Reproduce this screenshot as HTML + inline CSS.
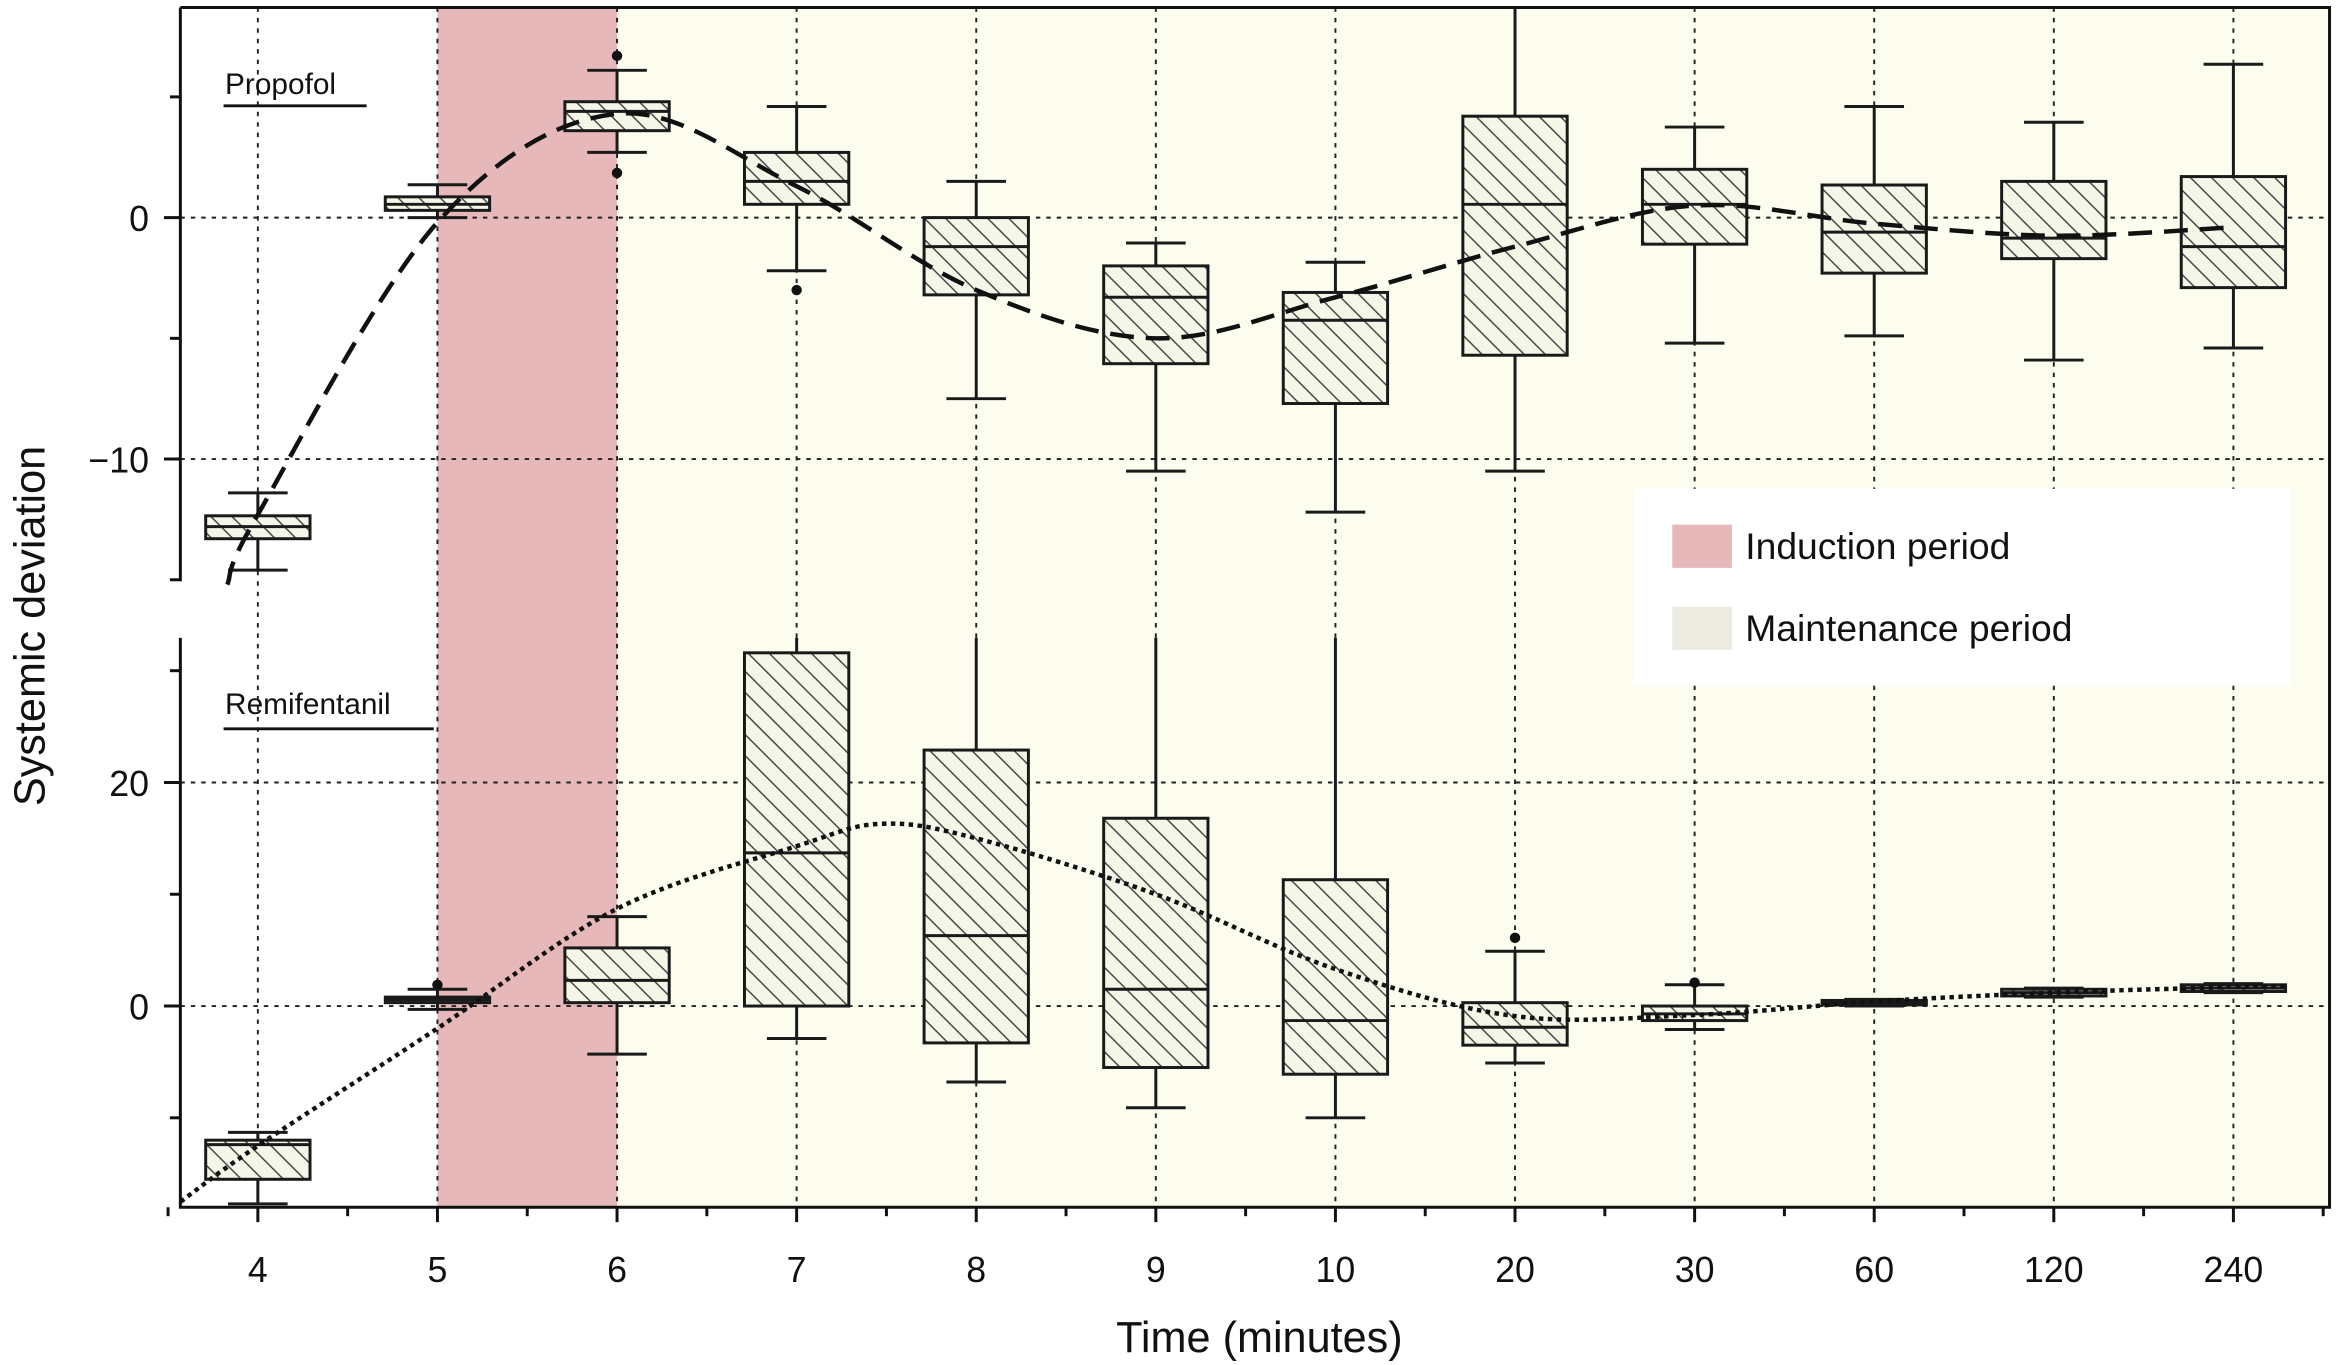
<!DOCTYPE html>
<html><head><meta charset="utf-8"><style>
html,body{margin:0;padding:0;background:#fff;}
svg{display:block;font-family:"Liberation Sans",Arial,sans-serif;}
</style></head><body>
<svg id="chart" width="2337" height="1365" viewBox="0 0 1568 915.85" xmlns="http://www.w3.org/2000/svg">
<defs>
<pattern id="hatch" patternUnits="userSpaceOnUse" width="10" height="10" patternTransform="rotate(45)">
<rect width="10" height="10" fill="#f6f6e8"/>
<line x1="0" y1="5" x2="10" y2="5" stroke="#333" stroke-width="0.9"/>
</pattern>
</defs>
<g id="bg"></g>
<g id="grid"></g>
<g id="marks"></g>
<g id="axes"></g>
</svg>
<script>
const categories = ["4","5","6","7","8","9","10","20","30","60","120","240"];
// Propofol [whiskerLow, q1, median, q3, whiskerHigh]
const propLow = [-14.6,0,2.7,-2.2,-7.5,-10.5,-12.2,-10.5,-5.2,-4.9,-5.9,-5.4];
const propQ1 = [-13.3,0.3,3.6,0.55,-3.2,-6.05,-7.7,-5.7,-1.1,-2.3,-1.7,-2.9];
const propMed = [-12.8,0.55,4.4,1.5,-1.2,-3.3,-4.25,0.55,0.55,-0.6,-0.85,-1.2];
const propQ3 = [-12.35,0.86,4.8,2.7,0,-2.0,-3.1,4.2,2.0,1.35,1.5,1.7];
const propHigh = [-11.4,1.36,6.1,4.6,1.5,-1.05,-1.85,8.7,3.75,4.6,3.95,6.35];
const propOutIdx = [2,2,3];
const propOutVal = [6.7,1.85,-3.0];
const propFitX = [-0.17,0,1,2,3,4,5,6,7,8,9,10,11];
const propFitY = [-15.2,-12.3,-0.2,4.3,1.3,-3.0,-5.0,-3.3,-1.2,0.5,-0.25,-0.75,-0.4];
// Remifentanil
const remiLow = [-17.7,-0.3,-4.3,-2.9,-6.8,-9.1,-10,-5.1,-2.1,0.0,0.8,1.2];
const remiQ1 = [-15.5,0.3,0.3,0,-3.3,-5.5,-6.1,-3.5,-1.3,0.1,0.9,1.3];
const remiMed = [-12.4,0.55,2.3,13.7,6.3,1.5,-1.3,-1.9,-0.7,0.3,1.2,1.6];
const remiQ3 = [-12,0.8,5.2,31.6,22.9,16.8,11.3,0.3,0,0.5,1.5,1.9];
const remiHigh = [-11.3,1.5,8,33,33,33,33,4.9,1.9,0.6,1.6,2.0];
const remiOutIdx = [1,7,8];
const remiOutVal = [1.9,6.1,2.1];
const remiFitX = [-0.43,0,1,2,3,3.47,4,5,6,7,8,9,10,11,11.3];
const remiFitY = [-17.5,-12.5,-2,8.7,14.3,16.3,15,10,3.3,-0.9,-0.8,0.4,1.2,1.7,1.8];
const topTicks = [-15,-10,-5,0,5];
const topLabels = [-10,0];
const botTicks = [-10,0,10,20,30];
const botLabels = [0,20];

const NS="http://www.w3.org/2000/svg";
function el(tag,attrs,parent,text){const e=document.createElementNS(NS,tag);for(const k in attrs)e.setAttribute(k,attrs[k]);if(text!==undefined)e.textContent=text;parent.appendChild(e);return e;}
const X0=121,X1=1563,TT=5,TB=390,BT=428,BB=810;
const xs=i=>173+120.5*i;
const yTop=v=>146-16.2*v;
const yBot=v=>675-7.5*v;
const bg=document.getElementById('bg'),grid=document.getElementById('grid'),marks=document.getElementById('marks'),axes=document.getElementById('axes');

let r=el('rect',{x:xs(1),y:TT,width:xs(2)-xs(1),height:BB-TT,fill:'#e6b8b9'},bg);

r=el('rect',{x:xs(2),y:TT,width:X1-xs(2),height:BB-TT,fill:'#fdfdef'},bg);


const dash={stroke:'#222','stroke-width':1.3,'stroke-dasharray':'3,4',fill:'none'};
categories.forEach((c,i)=>{let g=el('line',Object.assign({x1:xs(i),x2:xs(i),y1:TT,y2:BB},dash),grid);
});
topLabels.forEach(v=>{let g=el('line',Object.assign({x1:X0,x2:X1,y1:yTop(v),y2:yTop(v)},dash),grid);
});
botLabels.forEach(v=>{let g=el('line',Object.assign({x1:X0,x2:X1,y1:yBot(v),y2:yBot(v)},dash),grid);
});

function boxes(lo,q1,md,q3,hi,oi,ov,fy,name,yTopLim){
  const w=70;
  categories.forEach((c,i)=>{
    const g=el('g',{},marks);
    
    
    const x=xs(i),st={stroke:'#1a1a1a','stroke-width':2,fill:'none'};
    const hy=Math.max(yTopLim,fy(hi[i]));
    el('line',Object.assign({x1:x,x2:x,y1:hy,y2:fy(q3[i])},st),g);
    el('line',Object.assign({x1:x,x2:x,y1:fy(q1[i]),y2:fy(lo[i])},st),g);
    if(fy(hi[i])>yTopLim+1) el('line',Object.assign({x1:x-20,x2:x+20,y1:hy,y2:hy},st),g);
    el('line',Object.assign({x1:x-20,x2:x+20,y1:fy(lo[i]),y2:fy(lo[i])},st),g);
    el('rect',{x:x-w/2,y:fy(q3[i]),width:w,height:Math.max(2,fy(q1[i])-fy(q3[i])),fill:'url(#hatch)',stroke:'#1a1a1a','stroke-width':2},g);
    el('line',Object.assign({x1:x-w/2,x2:x+w/2,y1:fy(md[i]),y2:fy(md[i])},st),g);
  });
  oi.forEach((k,j)=>{const p=el('circle',{cx:xs(k),cy:fy(ov[j]),r:3.5,fill:'#111'},marks);
    });
}
boxes(propLow,propQ1,propMed,propQ3,propHigh,propOutIdx,propOutVal,yTop,'propofol',TT);
boxes(remiLow,remiQ1,remiMed,remiQ3,remiHigh,remiOutIdx,remiOutVal,yBot,'remifentanil',BT);

function smooth(px,py){let d='M'+px[0]+','+py[0];
  for(let i=0;i<px.length-1;i++){const p0=i?i-1:i,p3=i+2<px.length?i+2:i+1;
    const c1x=px[i]+(px[i+1]-px[p0])/6,c1y=py[i]+(py[i+1]-py[p0])/6;
    const c2x=px[i+1]-(px[p3]-px[i])/6,c2y=py[i+1]-(py[p3]-py[i])/6;
    d+=' C'+c1x+','+c1y+' '+c2x+','+c2y+' '+px[i+1]+','+py[i+1];}
  return d;}
let f=el('path',{d:smooth(propFitX.map(xs),propFitY.map(yTop)),fill:'none',stroke:'#111','stroke-width':3,'stroke-dasharray':'16,8'},marks);

f=el('path',{d:smooth(remiFitX.map(xs),remiFitY.map(yBot)),fill:'none',stroke:'#111','stroke-width':3,'stroke-dasharray':'3,3'},marks);


// axes
const ax={stroke:'#111','stroke-width':2,fill:'none'};
let a=el('path',Object.assign({d:`M${X0},${TT} L${X1},${TT} L${X1},${BB} L${X0},${BB} L${X0},${BT} M${X0},${TB} L${X0},${TT}`},ax),axes);

categories.forEach((c,i)=>{
  el('line',Object.assign({x1:xs(i),x2:xs(i),y1:BB,y2:BB+10},ax),axes);
  el('line',Object.assign({x1:xs(i)+60.25,x2:xs(i)+60.25,y1:BB,y2:BB+6},ax),axes);
  if(i===0) el('line',Object.assign({x1:xs(i)-60.25,x2:xs(i)-60.25,y1:BB,y2:BB+6},ax),axes);
  const t=el('text',{x:xs(i),y:860,'text-anchor':'middle','font-size':24,fill:'#111'},axes,c);
  
});
topTicks.forEach(v=>{const maj=topLabels.includes(v);el('line',Object.assign({x1:X0-(maj?11:7),x2:X0,y1:yTop(v),y2:yTop(v)},ax),axes);});
botTicks.forEach(v=>{const maj=botLabels.includes(v);el('line',Object.assign({x1:X0-(maj?11:7),x2:X0,y1:yBot(v),y2:yBot(v)},ax),axes);});
topLabels.forEach(v=>{const t=el('text',{x:100,y:yTop(v)+9,'text-anchor':'end','font-size':24,fill:'#111'},axes,v<0?'\u2212'+(-v):String(v));
  });
botLabels.forEach(v=>{const t=el('text',{x:100,y:yBot(v)+9,'text-anchor':'end','font-size':24,fill:'#111'},axes,String(v));
  });
</script>
<script>
(function(){
const NS="http://www.w3.org/2000/svg",svg=document.getElementById('chart');
function t(x,y,s,txt,name,extra){const e=document.createElementNS(NS,'text');e.setAttribute('x',x);e.setAttribute('y',y);e.setAttribute('font-size',s);e.setAttribute('fill','#111');
for(const k in (extra||{}))e.setAttribute(k,extra[k]);e.textContent=txt;


svg.appendChild(e);return e;}
function l(x1,y1,x2,y2,name){const e=document.createElementNS(NS,'line');e.setAttribute('x1',x1);e.setAttribute('y1',y1);e.setAttribute('x2',x2);e.setAttribute('y2',y2);e.setAttribute('stroke','#111');e.setAttribute('stroke-width',2);


svg.appendChild(e);}
t(151,63,20,'Propofol','propofol-panel-label');l(150,71,246,71,'propofol-label-underline');
t(151,479,20,'Remifentanil','remifentanil-panel-label');l(150,489,291,489,'remifentanil-label-underline');
t(845,907,29,'Time (minutes)','x-axis-title',{'text-anchor':'middle'});
t(0,0,29,'Systemic deviation','y-axis-title',{'text-anchor':'middle',transform:'translate(30,420) rotate(-90)'});
const lg=document.createElementNS(NS,'g');


svg.appendChild(lg);
lg.innerHTML='<rect x="1096" y="328" width="440" height="132" fill="#fff"/>'+
'<rect x="1122" y="352" width="40" height="29" fill="#e6b8b9"/>'+
'<text x="1171" y="375" font-size="25" fill="#111">Induction period</text>'+
'<rect x="1122" y="407" width="40" height="29" fill="#ebebdf"/>'+
'<text x="1171" y="430" font-size="25" fill="#111">Maintenance period</text>';
})();
</script>
</body></html>
